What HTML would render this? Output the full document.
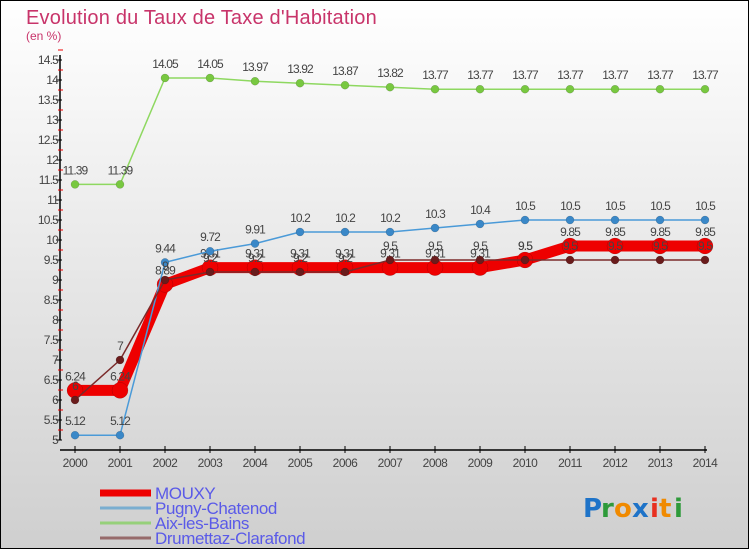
<!DOCTYPE html>
<html><head><meta charset="utf-8"><style>
body{margin:0;background:#fff}
svg{display:block;font-family:"Liberation Sans",sans-serif}
</style></head><body>
<svg id="chart" width="750" height="550" viewBox="0 0 750 550" xmlns="http://www.w3.org/2000/svg">
<defs><linearGradient id="bg" x1="0" y1="0" x2="0" y2="1"><stop offset="0" stop-color="#ffffff"/><stop offset="1" stop-color="#cfcfcf"/></linearGradient></defs>
<rect x="0.5" y="0.5" width="748" height="548" fill="url(#bg)" stroke="#000"/>
<text x="26" y="24" font-size="20" fill="#c8346a" letter-spacing="0.2">Evolution du Taux de Taxe d'Habitation</text>
<text x="26" y="40" font-size="12" fill="#c8346a">(en %)</text>
<g id="axes"></g>
<g id="series"></g>
<g id="legend"></g>
<g font-size="26" font-weight="bold" style="font-family:'DejaVu Sans',sans-serif">
<text x="583" y="517" fill="#1e73c8">P</text><text x="601" y="517" fill="#2e9a3a">r</text><text x="614" y="517" fill="#f08a00">o</text><text x="632" y="517" fill="#1e73c8">x</text><text x="650" y="517" fill="#e83020">i</text><text x="659" y="517" fill="#f08a00">t</text><text x="674" y="517" fill="#2e9a3a">i</text>
</g>
</svg>
<script>
const years = [2000,2001,2002,2003,2004,2005,2006,2007,2008,2009,2010,2011,2012,2013,2014];
const mouxy = [6.24,6.24,8.89,9.31,9.31,9.31,9.31,9.31,9.31,9.31,9.5,9.85,9.85,9.85,9.85];
const pugny = [5.12,5.12,9.44,9.72,9.91,10.2,10.2,10.2,10.3,10.4,10.5,10.5,10.5,10.5,10.5];
const aix = [11.39,11.39,14.05,14.05,13.97,13.92,13.87,13.82,13.77,13.77,13.77,13.77,13.77,13.77,13.77];
const drumettaz = [6,7,9,9.2,9.2,9.2,9.2,9.5,9.5,9.5,9.5,9.5,9.5,9.5,9.5];
const yTicks = [5,5.5,6,6.5,7,7.5,8,8.5,9,9.5,10,10.5,11,11.5,12,12.5,13,13.5,14,14.5];
const seriesNames = ["MOUXY","Pugny-Chatenod","Aix-les-Bains","Drumettaz-Clarafond"];

const NS="http://www.w3.org/2000/svg";
const x = i => 75 + (years[i]-years[0])*45;
const y = v => 440 - (v-5)*40;
function mk(tag, attrs, parent){const e=document.createElementNS(NS,tag);for(const k in attrs)e.setAttribute(k,attrs[k]);parent.appendChild(e);return e;}
const axes=document.getElementById('axes'), ser=document.getElementById('series'), leg=document.getElementById('legend');

let a=mk('line',{x1:60,y1:55,x2:60,y2:440,stroke:'#000','stroke-width':1.5},axes);


let b=mk('line',{x1:60,y1:450,x2:707,y2:450,stroke:'#000','stroke-width':1.5},axes);


yTicks.forEach(v=>{
  const t=mk('line',{x1:56,y1:y(v),x2:62,y2:y(v),stroke:'#000'},axes);
  
  
  const m=mk('line',{x1:58,y1:y(v)-10,x2:63,y2:y(v)-10,stroke:'#e00'},axes);
  
  
  const l=mk('text',{x:58,y:y(v)+4,'font-size':12,'text-anchor':'end',fill:'#444','letter-spacing':'-0.8'},axes);
  l.textContent=String(v);
  
  
});
years.forEach((yr,i)=>{
  const t=mk('line',{x1:x(i),y1:446,x2:x(i),y2:453,stroke:'#000'},axes);
  
  
  const l=mk('text',{x:x(i),y:467,'font-size':12,'text-anchor':'middle',fill:'#444','letter-spacing':'-0.5'},axes);
  l.textContent=String(yr);
  
  
});

function drawSeries(vals,name,color,mcolor,w,r){
  const g=mk('g',{},ser);
  
  
  const p=mk('polyline',{points:vals.map((v,i)=>x(i)+','+y(v)).join(' '),fill:'none',stroke:color,'stroke-width':w,'stroke-linejoin':'round'},g);
  
  
  vals.forEach((v,i)=>{
    const c=mk('circle',{cx:x(i),cy:y(v),r:r,fill:mcolor,stroke:'rgba(0,0,0,0.25)','stroke-width':0.5},g);
    
    
    const t=mk('text',{x:x(i),y:y(v)-10,'font-size':12,'text-anchor':'middle',fill:'#444','letter-spacing':'-0.9'},g);
    t.textContent=String(v);
    
    
  });
}
drawSeries(mouxy,'mouxy','#ee0000','#ee0000',11,8);
drawSeries(pugny,'pugny','#4a9ad8','#3a88c8',1.5,4);
drawSeries(aix,'aix','#8ed860','#78c840',1.5,4);
drawSeries(drumettaz,'drumettaz','#7a2a2a','#6a1c1c',1.5,4);

const legColors=['#ee0000','#7aaed0','#96d07a','#966a6a'];
const legW=[7,3,3,3];
seriesNames.forEach((n,i)=>{
  const yy=493+i*15;
  const l=mk('line',{x1:100,y1:yy,x2:151,y2:yy,stroke:legColors[i],'stroke-width':legW[i]},leg);
  
  
  const t=mk('text',{x:155,y:yy+6,'font-size':17,fill:'#5a5ae8','letter-spacing':'-0.4'},leg);
  t.textContent=n;
  
  
});
</script>
</body></html>
